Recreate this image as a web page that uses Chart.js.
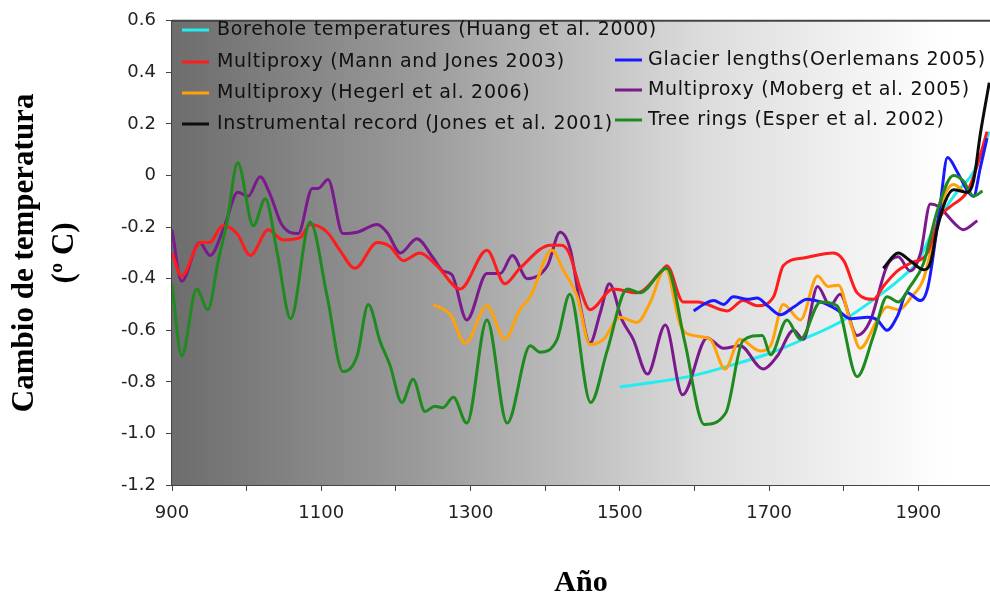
<!DOCTYPE html>
<html>
<head>
<meta charset="utf-8">
<script src="https://cdn.jsdelivr.net/npm/chart.js@4/dist/chart.umd.min.js"></script>
<style>
    body { margin: 0; background: #ffffff; }
    #tempChart { display: block; }
</style>
</head>
<body>
<canvas id="tempChart" width="990" height="598"></canvas>
<script>
// axis ticks
const xTickYears = [900, 1000, 1100, 1200, 1300, 1400, 1500, 1600, 1700, 1800, 1900];
const xLabelYears = [900, 1100, 1300, 1500, 1700, 1900];
const yTickValues = [0.6, 0.4, 0.2, 0, -0.2, -0.4, -0.6, -0.8, -1.0, -1.2];

// Borehole temperatures (Huang et al. 2000)
const boreholeYears = [1500, 1550, 1600, 1650, 1700, 1750, 1800, 1850, 1880, 1900, 1925, 1950, 1975, 1995];
const boreholeTemps = [-0.82, -0.80, -0.775, -0.735, -0.69, -0.63, -0.56, -0.46, -0.39, -0.33, -0.18, -0.07, 0.02, 0.17];

// Multiproxy (Mann and Jones 2003)
const mannYears = [900, 913, 938, 950, 968, 987, 1005, 1029, 1049, 1072, 1085, 1108, 1125, 1145, 1175, 1192, 1210, 1232, 1255, 1286,
    1322, 1346, 1366, 1407, 1422, 1432, 1447, 1460, 1491, 1523, 1556, 1563, 1585, 1604, 1644, 1665, 1684, 1706, 1719, 1746,
    1786, 1800, 1818, 1840, 1853, 1872, 1889, 1912, 1929, 1943, 1966, 1979, 1992];
const mannTemps = [-0.30, -0.39, -0.26, -0.26, -0.195, -0.225, -0.31, -0.21, -0.25, -0.24, -0.19, -0.22, -0.29, -0.36, -0.26, -0.275, -0.33, -0.30, -0.35, -0.44,
    -0.29, -0.42, -0.36, -0.27, -0.27, -0.30, -0.44, -0.52, -0.44, -0.455, -0.37, -0.35, -0.49, -0.49, -0.525, -0.485, -0.505, -0.47, -0.35, -0.32,
    -0.30, -0.33, -0.455, -0.48, -0.43, -0.37, -0.34, -0.30, -0.16, -0.12, -0.06, 0.04, 0.17];

// Multiproxy (Hegerl et al. 2006)
const hegerlYears = [1250, 1273, 1293, 1322, 1346, 1366, 1380, 1409, 1424, 1443, 1460, 1478, 1500, 1523, 1541, 1561, 1581, 1598, 1621, 1641,
    1661, 1688, 1702, 1719, 1742, 1765, 1779, 1793, 1809, 1822, 1845, 1858, 1874, 1891, 1907, 1934, 1947, 1960];
const hegerlTemps = [-0.50, -0.54, -0.65, -0.505, -0.635, -0.52, -0.47, -0.29, -0.365, -0.47, -0.655, -0.635, -0.55, -0.57, -0.49, -0.36, -0.58, -0.62, -0.635, -0.75,
    -0.635, -0.68, -0.66, -0.50, -0.56, -0.39, -0.43, -0.425, -0.57, -0.67, -0.56, -0.51, -0.52, -0.47, -0.40, -0.085, -0.035, -0.06];

// Instrumental record (Jones et al. 2001)
const jonesYears = [1853, 1873, 1889, 1907, 1916, 1925, 1936, 1947, 1966, 1974, 1983, 1995];
const jonesTemps = [-0.36, -0.30, -0.33, -0.365, -0.34, -0.21, -0.10, -0.055, -0.065, -0.02, 0.16, 0.36];

// Glacier lengths (Oerlemans 2005)
const glacierYears = [1599, 1612, 1626, 1639, 1652, 1671, 1684, 1698, 1715, 1733, 1751, 1769, 1791, 1809, 1832, 1845, 1858, 1872, 1885, 1903,
    1913, 1929, 1939, 1952, 1966, 1974, 1983, 1992];
const glacierTemps = [-0.525, -0.50, -0.485, -0.50, -0.47, -0.48, -0.475, -0.505, -0.54, -0.51, -0.48, -0.49, -0.52, -0.555, -0.55, -0.56, -0.60, -0.545, -0.455, -0.485,
    -0.43, -0.12, 0.07, 0.015, -0.06, -0.08, 0.03, 0.145];

// Multiproxy (Moberg et al. 2005)
const mobergYears = [900, 913, 937, 951, 971, 988, 1002, 1018, 1031, 1047, 1069, 1088, 1096, 1109, 1129, 1148, 1175, 1188, 1206, 1228,
    1250, 1263, 1275, 1295, 1322, 1340, 1356, 1376, 1403, 1420, 1434, 1447, 1460, 1474, 1486, 1503, 1518, 1537, 1561, 1584,
    1617, 1639, 1661, 1692, 1711, 1733, 1746, 1765, 1782, 1795, 1818, 1836, 1858, 1873, 1889, 1903, 1916, 1927, 1950, 1960, 1979];
const mobergTemps = [-0.21, -0.41, -0.26, -0.31, -0.19, -0.065, -0.08, -0.005, -0.07, -0.19, -0.225, -0.05, -0.05, -0.015, -0.225, -0.22, -0.19, -0.22, -0.30, -0.245,
    -0.32, -0.37, -0.385, -0.56, -0.38, -0.38, -0.31, -0.40, -0.35, -0.22, -0.29, -0.505, -0.65, -0.53, -0.42, -0.56, -0.635, -0.77, -0.58, -0.85,
    -0.63, -0.67, -0.66, -0.75, -0.70, -0.60, -0.635, -0.43, -0.505, -0.46, -0.62, -0.56, -0.35, -0.315, -0.37, -0.30, -0.11, -0.12, -0.19, -0.21, -0.175];

// Tree rings (Esper et al. 2002)
const esperYears = [900, 913, 933, 948, 962, 974, 988, 1009, 1025, 1041, 1059, 1085, 1108, 1129, 1148, 1163, 1179, 1192, 1208, 1223,
    1239, 1252, 1263, 1277, 1295, 1322, 1349, 1380, 1393, 1416, 1433, 1461, 1483, 1510, 1527, 1563, 1587, 1613, 1642, 1665,
    1691, 1702, 1724, 1742, 1769, 1791, 1818, 1840, 1858, 1873, 1889, 1907, 1925, 1947, 1960, 1974, 1986];
const esperTemps = [-0.42, -0.70, -0.44, -0.52, -0.33, -0.175, 0.05, -0.195, -0.09, -0.30, -0.555, -0.18, -0.47, -0.76, -0.70, -0.50, -0.645, -0.735, -0.88, -0.79,
    -0.915, -0.895, -0.90, -0.86, -0.96, -0.56, -0.96, -0.66, -0.685, -0.635, -0.46, -0.88, -0.68, -0.44, -0.455, -0.36, -0.645, -0.965, -0.92, -0.64,
    -0.62, -0.695, -0.56, -0.635, -0.49, -0.505, -0.78, -0.62, -0.47, -0.49, -0.43, -0.34, -0.14, 0.0, -0.02, -0.08, -0.06];

const seriesLabels = [
    'Borehole temperatures (Huang et al. 2000)',
    'Multiproxy (Mann and Jones 2003)',
    'Multiproxy (Hegerl et al. 2006)',
    'Instrumental record (Jones et al. 2001)',
    'Glacier lengths(Oerlemans 2005)',
    'Multiproxy (Moberg et al. 2005)',
    'Tree rings (Esper et al. 2002)'
];

document.addEventListener('DOMContentLoaded', function() {
    initializeChart();
});

function toPoints(years, temps) {
    return years.map((year, i) => ({ x: year, y: temps[i] }));
}

function makeSeries(label, years, temps, color, order) {
    return {
        label: label,
        data: toPoints(years, temps),
        borderColor: color,
        backgroundColor: color,
        borderWidth: 3,
        pointRadius: 0,
        cubicInterpolationMode: 'monotone',
        fill: false,
        order: order
    };
}

// grey-to-white shading behind the curves, plus the top frame line
const plotShade = {
    id: 'plotShade',
    beforeDatasetsDraw(chart) {
        const { ctx, chartArea } = chart;
        const grad = ctx.createLinearGradient(chartArea.left, 0, chartArea.right, 0);
        grad.addColorStop(0, '#6d6d6d');
        grad.addColorStop(0.3, '#9a9a9a');
        grad.addColorStop(0.65, '#dcdcdc');
        grad.addColorStop(0.95, '#ffffff');
        ctx.save();
        ctx.fillStyle = grad;
        ctx.fillRect(chartArea.left, chartArea.top, chartArea.right - chartArea.left, chartArea.bottom - chartArea.top);
        ctx.strokeStyle = '#444';
        ctx.lineWidth = 2;
        ctx.beginPath();
        ctx.moveTo(chartArea.left, chartArea.top);
        ctx.lineTo(chartArea.right, chartArea.top);
        ctx.stroke();
        ctx.restore();
    }
};

// two-column legend inside the plot
const cornerLegend = {
    id: 'cornerLegend',
    afterDatasetsDraw(chart) {
        const slots = [
            { x: 182, y: 30 }, { x: 182, y: 62 }, { x: 182, y: 93 }, { x: 182, y: 124 },
            { x: 615, y: 60 }, { x: 615, y: 90 }, { x: 615, y: 120 }
        ];
        const ctx = chart.ctx;
        ctx.save();
        ctx.font = '19px "DejaVu Sans"';
        ctx.letterSpacing = '0.7px';
        ctx.textBaseline = 'middle';
        chart.data.datasets.forEach((ds, i) => {
            const s = slots[i];
            ctx.strokeStyle = ds.borderColor;
            ctx.lineWidth = 3;
            ctx.beginPath();
            ctx.moveTo(s.x, s.y);
            ctx.lineTo(s.x + 27, s.y);
            ctx.stroke();
            ctx.fillStyle = '#111';
            ctx.fillText(ds.label, s.x + (i < 4 ? 35 : 33), s.y);
        });
        ctx.restore();
    }
};

function initializeChart() {
    const ctx = document.getElementById('tempChart').getContext('2d');
    const tickFont = { family: '"DejaVu Sans"', size: 18 };
    const titleFont = { family: '"Liberation Serif"', weight: 'bold' };

    const chart = new Chart(ctx, {
        type: 'line',
        data: {
            datasets: [
                makeSeries(seriesLabels[0], boreholeYears, boreholeTemps, '#22eef0', 7),
                makeSeries(seriesLabels[1], mannYears, mannTemps, '#ff1c1c', 3),
                makeSeries(seriesLabels[2], hegerlYears, hegerlTemps, '#ffa20a', 4),
                makeSeries(seriesLabels[3], jonesYears, jonesTemps, '#0d0d0d', 0),
                makeSeries(seriesLabels[4], glacierYears, glacierTemps, '#1a1aff', 2),
                makeSeries(seriesLabels[5], mobergYears, mobergTemps, '#7a1a8c', 5),
                makeSeries(seriesLabels[6], esperYears, esperTemps, '#1f8a1f', 1)
            ]
        },
        options: {
            responsive: false,
            devicePixelRatio: 1,
            animation: false,
            layout: { padding: { top: 14, right: 0, bottom: 0, left: 0 } },
            plugins: {
                legend: { display: false },
                tooltip: { enabled: false }
            },
            scales: {
                x: {
                    type: 'linear',
                    min: 900,
                    max: 1996,
                    afterFit: scale => { scale.height = 113; },
                    afterBuildTicks: scale => { scale.ticks = xTickYears.map(v => ({ value: v })); },
                    border: { display: true, color: '#444', width: 2 },
                    grid: { drawOnChartArea: false, drawTicks: true, tickLength: 6, color: '#444' },
                    ticks: {
                        font: tickFont,
                        color: '#222',
                        padding: 12,
                        maxRotation: 0,
                        autoSkip: false,
                        callback: value => xLabelYears.includes(value) ? String(value) : ''
                    },
                    title: {
                        display: true,
                        text: 'Año',
                        font: { ...titleFont, size: 30, lineHeight: 1.0 },
                        color: '#000',
                        padding: { top: 0, bottom: 0 }
                    }
                },
                y: {
                    type: 'linear',
                    min: -1.2,
                    max: 0.6,
                    afterFit: scale => { scale.width = 172; },
                    afterBuildTicks: scale => { scale.ticks = yTickValues.map(v => ({ value: v })); },
                    border: { display: true, color: '#444', width: 2 },
                    grid: { drawOnChartArea: false, drawTicks: true, tickLength: 6, color: '#444' },
                    ticks: {
                        font: tickFont,
                        color: '#222',
                        padding: 10,
                        callback: value => Math.abs(value) < 1e-9 ? '0' : value.toFixed(1)
                    },
                    title: {
                        display: true,
                        text: ['Cambio de temperatura', '(º C)'],
                        font: { ...titleFont, size: 31, lineHeight: 1.3 },
                        color: '#000',
                        padding: { top: 5, bottom: 0 }
                    }
                }
            }
        },
        plugins: [plotShade, cornerLegend]
    });

    window.tempChart = chart;
}
</script>
</body>
</html>
